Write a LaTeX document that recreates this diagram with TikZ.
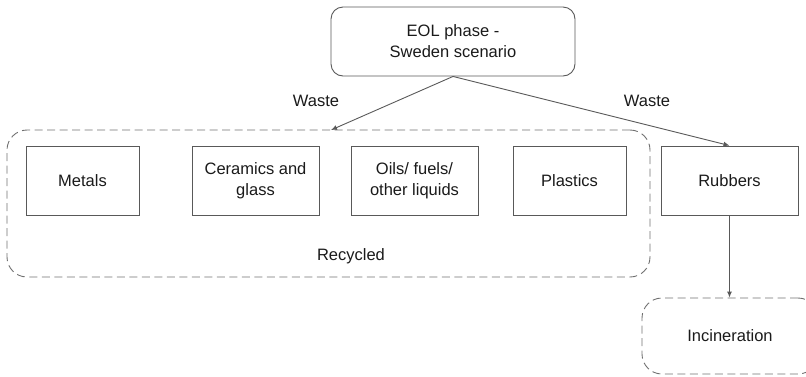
\documentclass[tikz,border=0pt]{standalone}
\usepackage{fontspec}
\setmainfont{Liberation Sans}
\usetikzlibrary{arrows.meta}
\definecolor{boxgray}{HTML}{595959}
\definecolor{dashgray}{HTML}{707070}
\definecolor{txt}{HTML}{1A1A1A}
\begin{document}
\begin{tikzpicture}[x=1pt,y=-1pt,
  every node/.style={text=txt, font=\fontsize{16.5}{21}\selectfont, align=center, inner sep=0pt},
  box/.style={draw=boxgray, line width=0.9pt, minimum height=69pt},
  dbox/.style={draw=dashgray, line width=0.9pt, dash pattern=on 8pt off 4.5pt, rounded corners=20pt},
  arr/.style={draw=boxgray, line width=0.9pt, -{Latex[length=6pt,width=5pt]}},
  lbl/.style={}]
\useasboundingbox (0,0) rectangle (806,376);
\clip (0,0) rectangle (806,376);
\node[dbox, minimum width=643pt, minimum height=147pt] (recycled) at (328.5,203.5) {};
\node[dbox, minimum width=176pt, minimum height=76pt] (incin) at (730,336) {Incineration};
\node[box, rounded corners=12pt, minimum width=244pt] (eol) at (453,41.5) {EOL phase -\\Sweden scenario};
\node[box, minimum width=113pt] (metals) at (82.5,180.5) {Metals};
\node[box, minimum width=127pt] (ceramics) at (255.5,180.5) {Ceramics and\\glass};
\node[box, minimum width=127pt] (oils) at (414.5,180.5) {Oils/ fuels/\\other liquids};
\node[box, minimum width=113pt] (plastics) at (569.5,180.5) {Plastics};
\node[box, minimum width=137pt] (rubbers) at (729.5,180.5) {Rubbers};
\node[lbl] (reclabel) at (351,256) {Recycled};
\node[lbl] (waste1) at (316,101) {Waste};
\node[lbl] (waste2) at (647,101) {Waste};
\coordinate (recin) at (331,130);
\draw[arr] (eol.south) -- (recin);
\draw[arr] (eol.south) -- (rubbers.north);
\draw[arr] (rubbers.south) -- (rubbers.south |- incin.north);
\end{tikzpicture}
\end{document}
